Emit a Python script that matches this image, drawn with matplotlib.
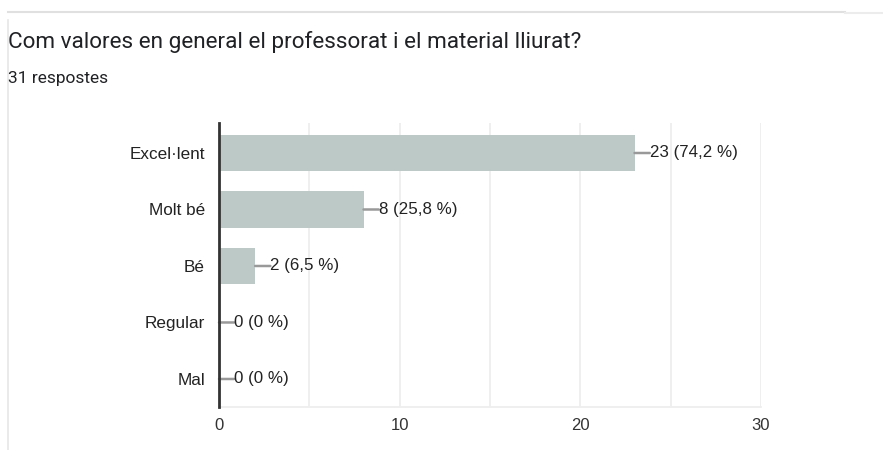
import matplotlib
matplotlib.use("Agg")
import matplotlib.pyplot as plt
from matplotlib.lines import Line2D

title = "Com valores en general el professorat i el material lliurat?"
subtitle = "31 respostes"
categories = ["Excel·lent", "Molt bé", "Bé", "Regular", "Mal"]
counts = [23, 8, 2, 0, 0]
labels = ["23 (74,2 %)", "8 (25,8 %)", "2 (6,5 %)", "0 (0 %)", "0 (0 %)"]
xticks = [0, 10, 20, 30]

W, H = 883, 450
fig = plt.figure(figsize=(W / 100, H / 100), dpi=100)
fig.patch.set_facecolor("white")

# card border
fig.add_artist(Line2D([8 / W, 845 / W], [1 - 12 / H, 1 - 12 / H], color="#e0e0e0", lw=1.5))
fig.add_artist(Line2D([845 / W, 883 / W], [1 - 13 / H, 1 - 13 / H], color="#ececec", lw=1.5))
fig.add_artist(Line2D([8 / W, 8 / W], [0, 1 - 20 / H], color="#e6e6e6", lw=1.2))

fig.text(8 / W, 1 - 42 / H, title, fontsize=16.2, family="Roboto", color="#202124", va="center", ha="left")
fig.text(8 / W, 1 - 79 / H, subtitle, fontsize=12.5, family="Roboto", color="#202124", va="center", ha="left")

ax = fig.add_axes([219 / W, 1 - 407 / H, (761 - 219) / W, (407 - 123) / H])
ypos = list(range(len(categories)))
ax.barh(ypos, counts, height=0.64, color="#bdc9c7", zorder=2)
ax.set_xlim(0, 30)
ax.set_ylim(4.496, -0.531)
ax.set_xticks(xticks)
ax.set_xticklabels([str(t) for t in xticks], fontsize=12, family="Liberation Sans", color="#333333")
ax.set_xticks([5, 15, 25], minor=True)
ax.set_yticks(ypos)
ax.set_yticklabels(categories, fontsize=12.3, family="Liberation Sans", color="#222222")
ax.tick_params(axis="y", length=0, pad=10)
ax.tick_params(axis="x", which="both", length=0, pad=8)
ax.grid(axis="x", which="both", color="#eeeeee", lw=1.3, zorder=0)
for s in ["top", "right"]:
    ax.spines[s].set_visible(False)
ax.spines["bottom"].set_color("#eeeeee")
ax.spines["bottom"].set_linewidth(1.3)
ax.spines["left"].set_color("#333333")
ax.spines["left"].set_linewidth(2)
ax.spines["left"].set_zorder(5)

for y, c, lab in zip(ypos, counts, labels):
    ax.annotate("", xy=(c, y), xytext=(11, 0), textcoords="offset points",
                arrowprops=dict(arrowstyle="-", color="#999999", lw=1.8, shrinkA=0, shrinkB=0))
    ax.annotate(lab, xy=(c, y), xytext=(11, 0), textcoords="offset points",
                fontsize=12.2, family="Liberation Sans", color="#222222", va="center", ha="left")

fig.savefig("out.png", dpi=100)
